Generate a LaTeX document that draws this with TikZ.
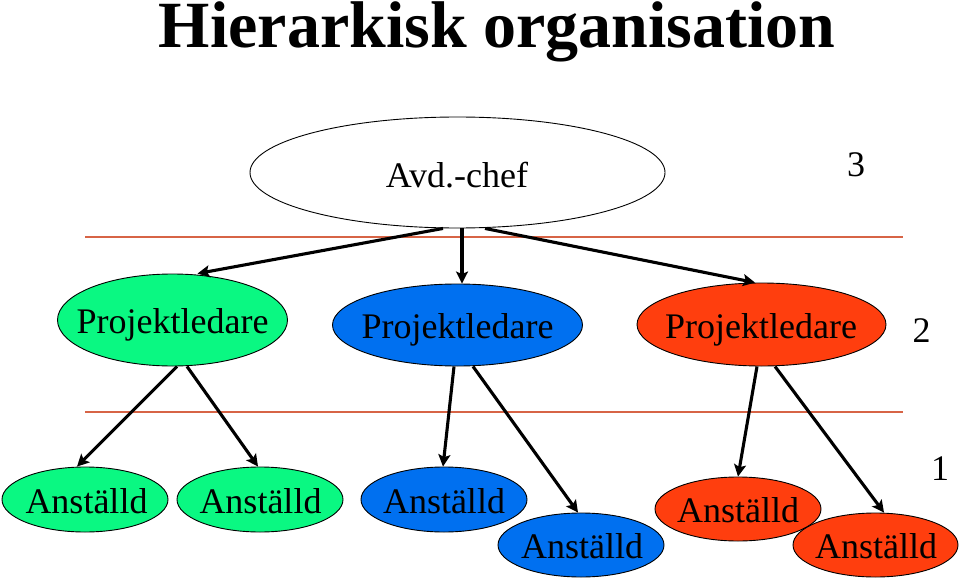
\documentclass[tikz,border=0pt]{standalone}
\usepackage{fontspec}
\setmainfont{Liberation Serif}
\usetikzlibrary{shapes.geometric,arrows.meta}
\definecolor{grn}{RGB}{10,248,130}
\definecolor{blu}{RGB}{0,112,240}
\definecolor{rd}{RGB}{255,62,14}
\definecolor{rulecol}{RGB}{215,100,70}
\begin{document}
\begin{tikzpicture}[x=1pt,y=-1pt,
  oval/.style={ellipse, draw=black, line width=0.9pt, inner sep=0pt},
  lbl/.style={anchor=base, font=\fontsize{36}{40}\selectfont, inner sep=0pt},
  titlelbl/.style={anchor=base, font=\fontsize{66}{70}\selectfont\bfseries, inner sep=0pt},
  link/.style={line width=3.1pt, -{Stealth[length=12pt,width=12pt,inset=2.5pt]}},
  sepline/.style={draw=rulecol, line width=1.3pt}]
\useasboundingbox (0,0) rectangle (960,580);
\fill[white] (0,0) rectangle (960,580);

\node[titlelbl] (title) at (497,48) {Hierarkisk organisation};

% separator lines
\coordinate (l1a) at (85,237);
\coordinate (l1b) at (903,237);
\coordinate (l2a) at (85,412);
\coordinate (l2b) at (903,412);
\draw[sepline] (l1a) -- (l1b);
\draw[sepline] (l2a) -- (l2b);

% level 3
\node[oval, fill=white, minimum width=415pt, minimum height=111pt] (chef) at (457.5,172.5) {};
\node[lbl] (chefT) at (457,187) {Avd.-chef};

% level 2
\node[oval, fill=grn, minimum width=230pt, minimum height=92pt] (pg) at (172.5,320) {};
\node[lbl] (pgT) at (172.5,333) {Projektledare};
\node[oval, fill=blu, minimum width=250pt, minimum height=82pt] (pb) at (457.5,325) {};
\node[lbl] (pbT) at (457.5,338) {Projektledare};
\node[oval, fill=rd, minimum width=249pt, minimum height=83pt] (pr) at (761.5,324.5) {};
\node[lbl] (prT) at (761,338) {Projektledare};

% level 1
\node[oval, fill=grn, minimum width=166pt, minimum height=65pt] (ga) at (85,499.5) {};
\node[lbl] (gaT) at (86.5,513) {Anställd};
\node[oval, fill=grn, minimum width=166pt, minimum height=65pt] (gb) at (260,499.5) {};
\node[lbl] (gbT) at (260.5,513) {Anställd};
\node[oval, fill=blu, minimum width=166pt, minimum height=65pt] (ba) at (444,499.5) {};
\node[lbl] (baT) at (444,513) {Anställd};
\node[oval, fill=blu, minimum width=166pt, minimum height=64pt] (bb) at (581,545) {};
\node[lbl] (bbT) at (582,558) {Anställd};
\node[oval, fill=rd, minimum width=166pt, minimum height=64pt] (ra) at (738,509) {};
\node[lbl] (raT) at (738,522) {Anställd};
\node[oval, fill=rd, minimum width=165pt, minimum height=64pt] (rb) at (875.5,545) {};
\node[lbl] (rbT) at (876,558) {Anställd};

% level numbers
\node[lbl] (n3) at (856,177) {3};
\node[lbl] (n2) at (921.5,342) {2};
\node[lbl] (n1) at (940,480) {1};

% connectors
\draw[link] ([xshift=-14.5pt]chef.south) -- ([xshift=25pt]pg.north);
\draw[link] ([xshift=4.5pt]chef.south) -- ([xshift=4.5pt]pb.north);
\draw[link] ([xshift=27.5pt]chef.south) -- ([xshift=-6.5pt]pr.north);

\draw[link] ([xshift=4.5pt]pg.south) -- ([xshift=-8pt]ga.north);
\draw[link] ([xshift=14.5pt]pg.south) -- ([xshift=-2pt]gb.north);

\draw[link] ([xshift=-3.5pt]pb.south) -- ([xshift=-1pt]ba.north);
\draw[link] ([xshift=15.5pt]pb.south) -- ([xshift=-3pt]bb.north);

\draw[link] ([xshift=-4.5pt]pr.south) -- (ra.north);
\draw[link] ([xshift=13.5pt]pr.south) -- ([xshift=8.5pt]rb.north);
\end{tikzpicture}
\end{document}
